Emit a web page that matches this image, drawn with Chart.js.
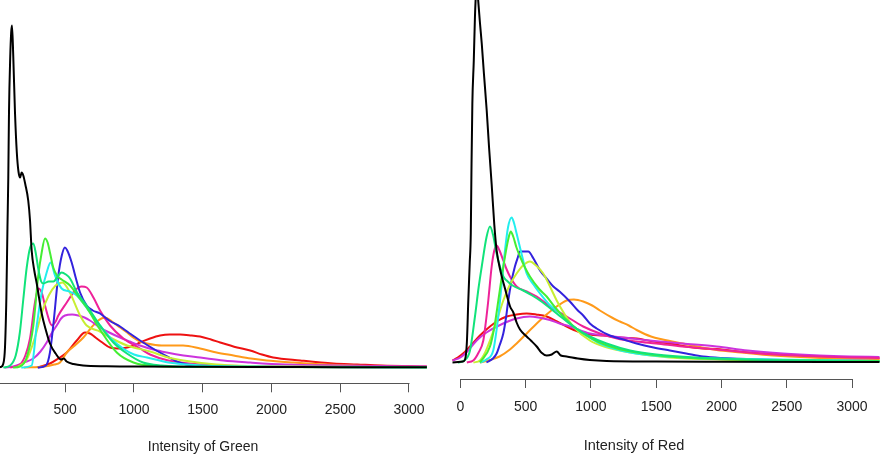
<!DOCTYPE html>
<html lang="en">
<head>
<meta charset="UTF-8">
<title>Intensity densities</title>
<script src="https://cdn.jsdelivr.net/npm/chart.js"></script>
<style>
  html, body { margin: 0; padding: 0; background: #fff; }
  body { width: 880px; height: 470px; position: relative; overflow: hidden; }
  .panel { position: absolute; top: 0; height: 470px; }
  #greenBox { left: -21px; width: 448px; }
  #redBox { left: 388px; width: 492px; }
</style>
</head>
<body>
<div class="panel" id="greenBox"><canvas id="greenChart"></canvas></div>
<div class="panel" id="redBox"><canvas id="redChart"></canvas></div>

<script>
// tick labels on both x axes
const xTicks = [0, 500, 1000, 1500, 2000, 2500, 3000];

// one colour per sample, same order in both panels
const sampleColors = ['#000000', '#11E37A', '#44EE33', '#22EEEE', '#C8EE33',
                      '#3322DD', '#EE2299', '#CC33DD', '#FF9A1A', '#EE1111'];

// green channel: [intensity, relative density]
const greenBlack = [[-100,0],[0,0],[30,0.5],[50,4],[62,20],[72,70],[80,140],[86,190],[91,254],[100,310],[107,335],[113,342],[122,312],[135,254],[148,215],[160,196],[172,190],[183,195],[195,192],[210,183],[231,167],[244,147],[256,117],[275,97],[293,84],[329,54],[360,37],[389,24],[430,14],[470,8],[490,9],[510,6],[560,3.5],[630,2],[800,1.2],[1000,1],[1500,0.7],[2000,0.5],[2500,0.3],[3130,0.2]];
const greenSpring = [[50,0],[100,2],[140,12],[170,35],[195,68],[220,100],[245,120],[268,124],[285,115],[305,98],[325,86],[341,84],[380,86],[414,86],[450,92],[474,95],[505,93],[535,89],[586,75],[656,62],[753,42],[850,25],[949,14],[1066,5],[1200,2],[1500,0.7],[3130,0.2]];
const greenLime = [[120,0],[171,1],[220,10],[268,42],[304,92],[329,115],[353,129],[372,125],[389,115],[413,100],[440,92],[474,88],[535,82],[600,70],[656,60],[753,38],[875,15],[996,5],[1150,1.5],[1500,0.5],[3130,0.2]];
const greenCyan = [[180,0],[256,2],[293,42],[329,75],[365,95],[394,105],[426,92],[474,79],[530,76],[584,72],[680,55],[753,42],[840,28],[921,19],[1000,13],[1095,10],[1250,5],[1500,2],[2000,0.8],[3130,0.3]];
const greenYellow = [[150,0],[220,8],[280,30],[330,55],[380,72],[430,82],[480,85],[530,76],[608,52],[656,42],[753,36],[826,30],[950,22],[1117,16],[1250,10],[1360,7],[1600,3],[2000,1],[3130,0.3]];
const greenBlue = [[300,0],[360,2],[389,15],[413,42],[450,92],[475,112],[498,120],[515,117],[547,105],[580,88],[608,75],[656,62],[700,57],[753,54],[820,47],[899,41],[960,35],[1044,27],[1150,18],[1241,11],[1330,5],[1430,2],[1700,0.8],[3130,0.3]];
const greenPink = [[100,0],[171,3],[210,12],[244,29],[280,65],[304,79],[329,75],[353,62],[389,45],[402,42],[430,46],[450,52],[511,65],[571,77],[620,81],[656,80],[705,70],[753,57],[826,42],[923,29],[1044,19],[1117,13],[1250,7],[1481,3],[1800,1.5],[3130,0.5]];
const greenViolet = [[60,0],[122,1],[200,5],[268,9],[320,16],[365,25],[400,34],[438,42],[470,49],[498,52],[550,53],[595,52],[640,50],[680,47],[753,40],[820,35],[899,30],[970,26],[1044,22],[1140,18],[1238,15],[1360,12],[1481,10],[1650,7],[1845,5],[2100,3],[2500,2],[3130,1]];
const greenOrange = [[200,0],[350,1],[420,3],[462,5],[511,15],[570,22],[632,30],[690,40],[740,47],[790,50],[840,46],[899,40],[950,35],[994,30],[1044,26],[1095,24],[1200,22],[1357,22],[1481,19],[1600,15],[1724,12],[1850,9],[1966,7],[2160,5],[2400,3],[2700,1.5],[3130,0.5]];
const greenRed = [[300,0],[389,4],[450,9],[511,15],[584,27],[644,35],[680,34],[720,30],[770,25],[826,20],[900,19],[950,20],[1000,22],[1044,25],[1117,29],[1190,32],[1260,33],[1336,33],[1420,32],[1481,31],[1560,28],[1627,25],[1750,20],[1845,17],[1930,13],[2012,10],[2209,7],[2449,4],[2624,3],[2800,2],[3130,1]];

// red channel: [intensity, relative density]
const redBlack = [[-60,0],[20,1],[36,3],[50,20],[61,62],[72,100],[80,129],[85,190],[92,259],[103,302],[112,346],[120,370],[127,378],[135,365],[150,340],[164,319],[180,290],[202,252],[220,215],[240,178],[260,138],[278,112],[310,90],[342,74],[381,56],[406,50],[431,40],[457,33],[508,26],[540,22],[585,16],[620,10],[661,7],[700,8],[738,11],[770,7],[814,6],[900,4],[992,2.5],[1120,1.5],[1500,1],[2000,0.8],[3210,0.5]];
const redSpring = [[-20,0],[30,2],[74,12],[112,46],[140,75],[164,96],[200,125],[227,136],[250,128],[278,109],[329,86],[355,82],[400,77],[482,72],[550,67],[610,62],[738,49],[865,36],[992,26],[1120,19],[1300,12],[1500,8],[1800,5],[2200,3],[2600,2],[3210,1]];
const redLime = [[150,0],[227,16],[260,35],[291,62],[320,88],[342,106],[365,122],[386,131],[405,126],[430,115],[457,106],[495,95],[533,86],[600,74],[661,66],[720,56],[788,46],[860,37],[941,29],[1050,21],[1200,14],[1400,9],[1700,5],[2100,3],[3210,1.5]];
const redCyan = [[150,0],[200,3],[252,12],[280,35],[304,62],[342,112],[365,135],[393,145],[410,140],[431,129],[470,108],[508,89],[560,78],[610,69],[680,58],[763,49],[850,38],[941,29],[1069,19],[1200,13],[1400,8],[1700,5],[1962,4],[2400,3],[3210,1.5]];
const redYellow = [[100,0],[150,2],[190,10],[227,22],[280,42],[329,62],[380,78],[431,89],[480,97],[533,101],[580,97],[635,89],[690,75],[738,62],[800,48],[865,36],[992,22],[1100,16],[1300,10],[1600,5],[2000,3],[3210,1.5]];
const redBlue = [[200,0],[250,4],[278,9],[300,17],[329,29],[350,45],[367,62],[390,80],[418,96],[440,105],[457,111],[520,111],[560,104],[610,92],[660,84],[712,76],[760,71],[839,61],[900,52],[941,47],[992,39],[1044,34],[1145,27],[1250,23],[1350,19],[1480,15],[1604,12],[1730,9],[1859,6],[2000,4.5],[2300,3],[2700,2],[3210,1.5]];
const redPink = [[50,0],[99,2],[140,10],[176,22],[195,40],[214,62],[240,96],[260,112],[278,117],[300,112],[329,102],[355,93],[380,86],[431,76],[508,71],[585,66],[686,56],[814,46],[941,36],[1069,29],[1200,24],[1350,21],[1500,19],[1700,16],[1962,13],[2200,10],[2471,7.5],[2750,6],[3000,5],[3210,4.5]];
const redViolet = [[-60,2],[0,5],[60,12],[125,22],[200,30],[304,37.5],[431,44],[533,46],[600,45],[686,42.5],[760,39],[839,36],[992,29],[1100,27],[1250,25],[1450,22],[1700,19],[1962,16],[2200,12],[2471,9],[2750,7],[2981,6],[3210,5.5]];
const redOrange = [[150,0],[227,2.5],[300,6],[380,13],[431,19],[500,28],[585,39],[660,48],[738,56],[814,62],[870,63],[941,61],[1010,57],[1069,52],[1160,45],[1222,41],[1290,37],[1350,32.5],[1460,26],[1550,23],[1706,19],[1850,15],[1962,12.5],[2150,10],[2344,7.5],[2600,5.5],[2900,4],[3210,3.5]];
const redRed = [[-60,2],[-20,5],[30,10],[74,16],[150,27],[227,36],[290,42],[355,46],[430,48],[508,49],[580,48],[661,46],[740,41],[814,36],[900,31],[992,28],[1094,27],[1222,25],[1350,24],[1477,21],[1604,19],[1730,16],[1859,14],[1962,13.5],[2200,10],[2471,7.5],[2750,5.5],[2981,4.5],[3210,4]];

const greenSeries = [greenBlack, greenSpring, greenLime, greenCyan, greenYellow,
                     greenBlue, greenPink, greenViolet, greenOrange, greenRed];
const redSeries = [redBlack, redSpring, redLime, redCyan, redYellow,
                   redBlue, redPink, redViolet, redOrange, redRed];

// R style axis: line only from first to last tick
const axisLine = {
  id: 'axisLine',
  afterDraw(chart) {
    const s = chart.scales.x;
    const ctx = chart.ctx;
    ctx.save();
    ctx.strokeStyle = '#555';
    ctx.lineWidth = 1;
    ctx.beginPath();
    ctx.moveTo(Math.round(s.getPixelForValue(xTicks[0])) + 0.5, Math.round(s.top) + 0.5);
    ctx.lineTo(Math.round(s.getPixelForValue(xTicks[xTicks.length - 1])) + 0.5, Math.round(s.top) + 0.5);
    ctx.stroke();
    ctx.restore();
  }
};

function makeChart(id, series, title, o) {
  const ctx = document.getElementById(id).getContext('2d');
  return new Chart(ctx, {
    type: 'line',
    data: {
      datasets: series.map((pts, i) => ({
        data: pts,
        borderColor: sampleColors[i],
        borderWidth: 2,
        pointRadius: 0,
        fill: false,
        cubicInterpolationMode: 'monotone'
      }))
    },
    options: {
      responsive: true,
      maintainAspectRatio: false,
      animation: false,
      layout: { padding: 0, autoPadding: false },
      plugins: { legend: { display: false }, tooltip: { enabled: false } },
      scales: {
        x: {
          type: 'linear',
          min: o.xMin,
          max: o.xMax,
          border: { display: false },
          grid: { drawOnChartArea: false, drawTicks: true, tickLength: 9, color: '#555', lineWidth: 1 },
          afterBuildTicks: s => { s.ticks = xTicks.map(v => ({ value: v })); },
          afterFit: s => {
            s.height = o.axisHeight;
            s.paddingLeft = 0;
            s.paddingRight = 0;
          },
          ticks: {
            autoSkip: false,
            maxRotation: 0,
            padding: o.tickPad,
            color: '#222',
            font: { family: '"Liberation Sans", Arial, sans-serif', size: 14 },
            callback: v => String(v)
          },
          title: {
            display: true,
            text: title,
            color: '#222',
            padding: { top: 0, bottom: o.titlePad },
            font: { family: '"Liberation Sans", Arial, sans-serif', size: o.titleSize }
          }
        },
        y: { display: false, min: o.yMin, max: o.yMax }
      }
    },
    plugins: [axisLine]
  });
}

makeChart('greenChart', greenSeries, 'Intensity of Green',
  { xMin: -127, xMax: 3131, yMin: -15.8, yMax: 367.5, axisHeight: 86.7, tickPad: 9, titlePad: 14.6, titleSize: 14 });
makeChart('redChart', redSeries, 'Intensity of Red',
  { xMin: -554, xMax: 3214, yMin: -16.5, yMax: 362.5, axisHeight: 91, tickPad: 11, titlePad: 15.6, titleSize: 14.5 });
</script>
</body>
</html>
